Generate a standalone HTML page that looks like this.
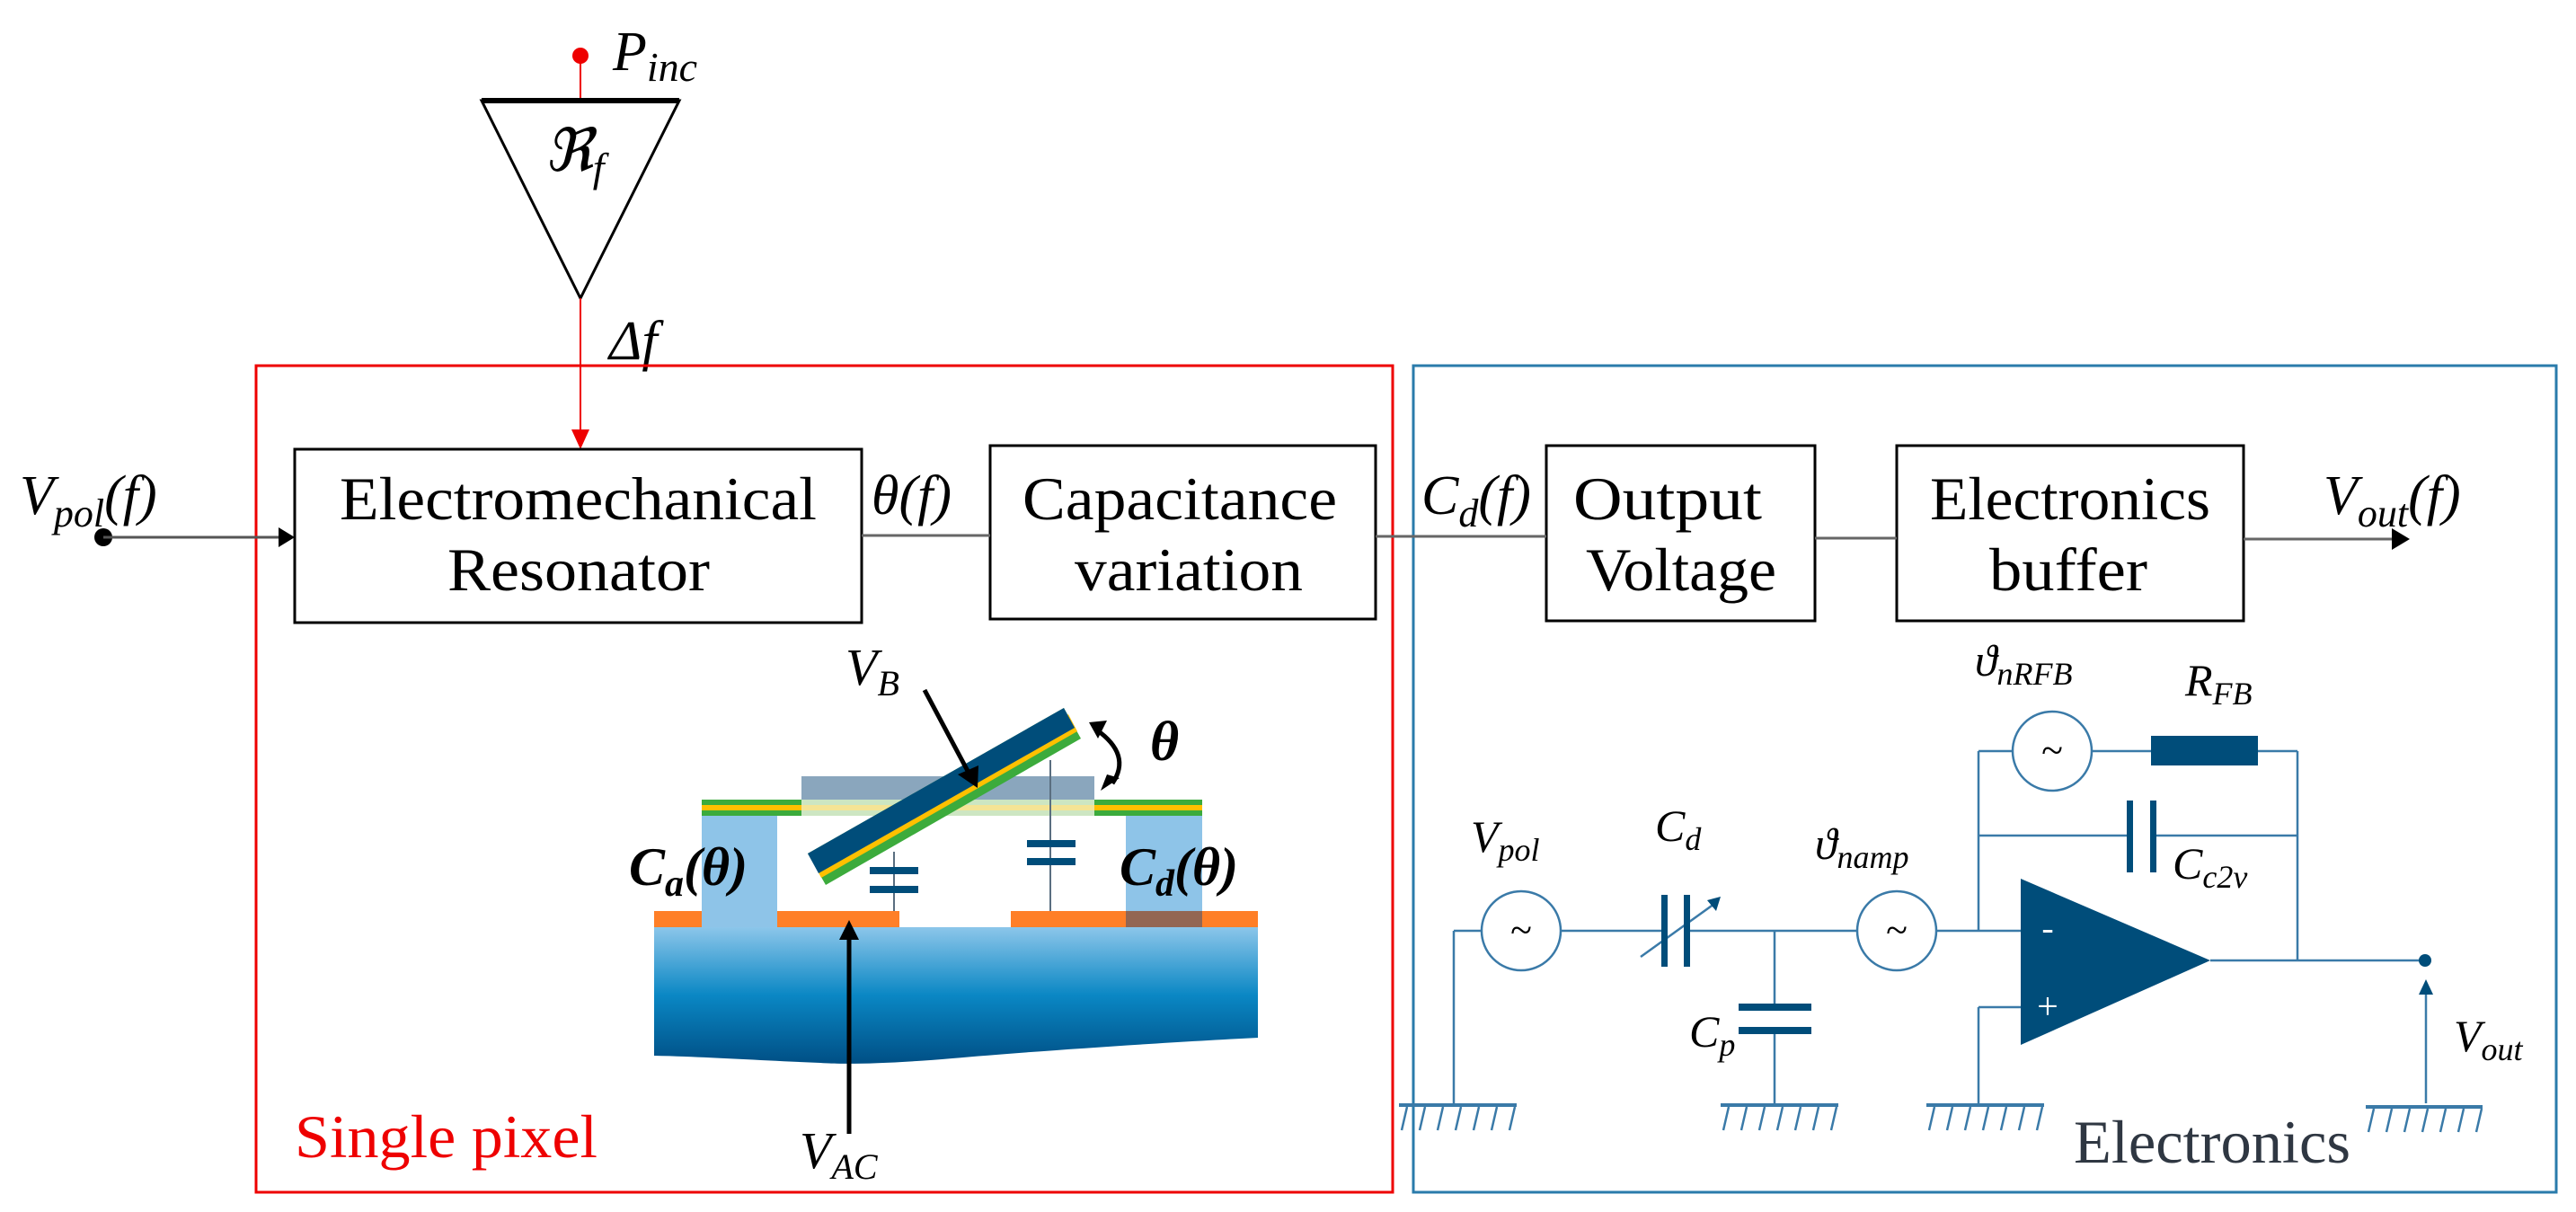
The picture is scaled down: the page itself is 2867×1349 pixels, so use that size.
<!DOCTYPE html>
<html><head><meta charset="utf-8"><style>
html,body{margin:0;padding:0;background:#fff;}
svg{display:block;}
text{font-family:"Liberation Serif",serif;}
</style></head><body>
<svg width="2867" height="1349" viewBox="0 0 2867 1349" xmlns="http://www.w3.org/2000/svg">
<defs>
<linearGradient id="sub" x1="0" y1="0" x2="0" y2="1">
<stop offset="0" stop-color="#8cc6ea"/><stop offset="0.5" stop-color="#0a87c4"/><stop offset="1" stop-color="#004f85"/>
</linearGradient>
</defs>
<!-- top triangle -->
<line x1="646" y1="62" x2="646" y2="112" stroke="#e00" stroke-width="2"/>
<circle cx="646" cy="62" r="9" fill="#e00"/>
<text x="682" y="78" font-size="62" font-style="italic">P<tspan font-size="46" dy="12">inc</tspan></text>
<polygon points="536,112 756,112 646,332" fill="#fff" stroke="#000" stroke-width="3"/>
<line x1="536" y1="112" x2="756" y2="112" stroke="#000" stroke-width="6"/>
<text x="606" y="190" font-size="66" font-style="italic">ℜ<tspan font-size="46" dy="12">f</tspan></text>
<line x1="646" y1="332" x2="646" y2="484" stroke="#e00" stroke-width="2"/>
<polygon points="636,478 656,478 646,500" fill="#e00"/>
<text x="678" y="400" font-size="62" font-style="italic">Δf</text>
<!-- frames -->
<rect x="285" y="407" width="1265" height="920" fill="none" stroke="#e00" stroke-width="3"/>
<rect x="1573" y="407" width="1272" height="920" fill="none" stroke="#2a7bab" stroke-width="3"/>
<!-- blocks -->
<g font-size="68" lengthAdjust="spacingAndGlyphs">
<rect x="328" y="500" width="631" height="193" fill="#fff" stroke="#000" stroke-width="3"/>
<text x="378" y="578" textLength="531" lengthAdjust="spacingAndGlyphs">Electromechanical</text>
<text x="498" y="657" textLength="292" lengthAdjust="spacingAndGlyphs">Resonator</text>
<rect x="1102" y="496" width="429" height="193" fill="#fff" stroke="#000" stroke-width="3"/>
<text x="1138" y="578" textLength="350" lengthAdjust="spacingAndGlyphs">Capacitance</text>
<text x="1196" y="657" textLength="254" lengthAdjust="spacingAndGlyphs">variation</text>
<rect x="1721" y="496" width="299" height="195" fill="#fff" stroke="#000" stroke-width="3"/>
<text x="1751" y="578" textLength="210" lengthAdjust="spacingAndGlyphs">Output</text>
<text x="1765" y="657" textLength="212" lengthAdjust="spacingAndGlyphs">Voltage</text>
<rect x="2111" y="496" width="386" height="195" fill="#fff" stroke="#000" stroke-width="3"/>
<text x="2148" y="578" textLength="312" lengthAdjust="spacingAndGlyphs">Electronics</text>
<text x="2214" y="657" textLength="176" lengthAdjust="spacingAndGlyphs">buffer</text>
</g>
<!-- connectors -->
<circle cx="115" cy="598" r="10" fill="#000"/>
<line x1="115" y1="598" x2="312" y2="598" stroke="#555" stroke-width="3"/>
<polygon points="310,587 328,598 310,609" fill="#000"/>
<text x="22" y="572" font-size="62" font-style="italic">V<tspan font-size="44" dy="14">pol</tspan><tspan dy="-14" font-size="62">(f)</tspan></text>
<line x1="959" y1="596" x2="1102" y2="596" stroke="#666" stroke-width="3"/>
<text x="970" y="572" font-size="62" font-style="italic">θ(f)</text>
<line x1="1531" y1="597" x2="1721" y2="597" stroke="#666" stroke-width="3"/>
<text x="1582" y="572" font-size="62" font-style="italic">C<tspan font-size="44" dy="14">d</tspan><tspan dy="-14" font-size="62">(f)</tspan></text>
<line x1="2020" y1="599" x2="2111" y2="599" stroke="#666" stroke-width="3"/>
<line x1="2497" y1="600" x2="2665" y2="600" stroke="#666" stroke-width="3"/>
<polygon points="2662,588 2682,600 2662,612" fill="#000"/>
<text x="2586" y="572" font-size="62" font-style="italic">V<tspan font-size="44" dy="14">out</tspan><tspan dy="-14" font-size="62">(f)</tspan></text>
<!-- MEMS device -->
<path d="M728,1032 L1400,1032 L1400,1155 C1300,1160 1150,1170 1060,1178 C990,1184 940,1185 913,1183 C840,1180 780,1176 728,1175 Z" fill="url(#sub)"/>
<rect x="728" y="1014" width="672" height="18" fill="#ff7f27"/>
<rect x="1001" y="1014" width="124" height="18" fill="#fff"/>
<rect x="781" y="907" width="84" height="125" fill="#8ec4e8"/>
<rect x="1253" y="907" width="85" height="107" fill="#8ec4e8"/>
<rect x="1253" y="1014" width="85" height="18" fill="#936653"/>
<rect x="892" y="864" width="326" height="26" fill="#8aa6bd"/>
<rect x="781" y="890" width="557" height="18" fill="#b8dca8" opacity="0.7"/>
<rect x="781" y="890" width="111" height="18" fill="#3cab3c"/>
<rect x="781" y="896" width="111" height="6" fill="#ffc000"/>
<rect x="1218" y="890" width="120" height="18" fill="#3cab3c"/>
<rect x="1218" y="896" width="120" height="6" fill="#ffc000"/>
<rect x="892" y="896" width="326" height="6" fill="#ffe48a" opacity="0.8"/>
<line x1="995" y1="948" x2="995" y2="1014" stroke="#5a6e80" stroke-width="2"/>
<rect x="968" y="965" width="54" height="8" fill="#004d7a"/>
<rect x="968" y="986" width="54" height="8" fill="#004d7a"/>
<line x1="1169" y1="846" x2="1169" y2="1014" stroke="#5a6e80" stroke-width="2"/>
<rect x="1143" y="935" width="54" height="8" fill="#004d7a"/>
<rect x="1143" y="955" width="54" height="8" fill="#004d7a"/>
<polygon points="899,950 1184,788 1203,822 919,985" fill="#3cab3c"/>
<polygon points="903,956 1189,795 1199,814 914,977" fill="#ffc000"/>
<polygon points="899,950 1184,788 1196,810 911,972" fill="#004d7a"/>
<line x1="1029" y1="768" x2="1078" y2="860" stroke="#000" stroke-width="5"/>
<polygon points="1066,862 1088,877 1089,852" fill="#000"/>
<path d="M1220,812 Q1260,840 1238,872" fill="none" stroke="#000" stroke-width="5"/>
<polygon points="1212,804 1232,802 1222,822" fill="#000"/>
<polygon points="1225,880 1246,866 1232,862" fill="#000"/>
<text x="1280" y="846" font-size="62" font-style="italic" font-weight="bold">θ</text>
<text x="941" y="762" font-size="58" font-style="italic">V<tspan font-size="40" dy="12">B</tspan></text>
<text x="700" y="985" font-size="60" font-style="italic" font-weight="bold">C<tspan font-size="42" dy="12">a</tspan><tspan dy="-12" font-size="60">(θ)</tspan></text>
<text x="1246" y="985" font-size="60" font-style="italic" font-weight="bold">C<tspan font-size="42" dy="12">d</tspan><tspan dy="-12" font-size="60">(θ)</tspan></text>
<line x1="945" y1="1262" x2="945" y2="1042" stroke="#000" stroke-width="5"/>
<polygon points="934,1046 945,1024 956,1046" fill="#000"/>
<text x="890" y="1300" font-size="58" font-style="italic">V<tspan font-size="40" dy="12">AC</tspan></text>
<text x="328" y="1288" font-size="68" fill="#e00" textLength="337" lengthAdjust="spacingAndGlyphs">Single pixel</text>
<!-- circuit -->
<g stroke="#3a7aa8" stroke-width="2.5" fill="none">
<line x1="1618" y1="1036" x2="1648" y2="1036"/>
<line x1="1618" y1="1036" x2="1618" y2="1230"/>
<line x1="1738" y1="1036" x2="1852" y2="1036"/>
<line x1="1877" y1="1036" x2="2068" y2="1036"/>
<line x1="1975" y1="1036" x2="1975" y2="1118"/>
<line x1="1975" y1="1150" x2="1975" y2="1230"/>
<line x1="2156" y1="1036" x2="2249" y2="1036"/>
<line x1="2202" y1="836" x2="2202" y2="1036"/>
<line x1="2202" y1="836" x2="2240" y2="836"/>
<line x1="2328" y1="836" x2="2394" y2="836"/>
<line x1="2513" y1="836" x2="2557" y2="836"/>
<line x1="2202" y1="930" x2="2370" y2="930"/>
<line x1="2396" y1="930" x2="2557" y2="930"/>
<line x1="2557" y1="836" x2="2557" y2="1069"/>
<line x1="2460" y1="1069" x2="2699" y2="1069"/>
<line x1="2249" y1="1121" x2="2202" y2="1121"/>
<line x1="2202" y1="1121" x2="2202" y2="1230"/>
<line x1="2700" y1="1228" x2="2700" y2="1105"/>
<circle cx="1693" cy="1036" r="44"/>
<circle cx="2111" cy="1036" r="44"/>
<circle cx="2284" cy="836" r="44"/>
</g>
<g stroke="#3a7aa8" stroke-width="4">
<line x1="1557" y1="1230" x2="1688" y2="1230"/>
<line x1="1915" y1="1230" x2="2046" y2="1230"/>
<line x1="2144" y1="1230" x2="2275" y2="1230"/>
<line x1="2633" y1="1232" x2="2763" y2="1232"/>
</g>
<g stroke="#3a7aa8" stroke-width="2.5">
<path d="M1566,1232 l-6,26 M1586,1232 l-6,26 M1606,1232 l-6,26 M1626,1232 l-6,26 M1646,1232 l-6,26 M1666,1232 l-6,26 M1686,1232 l-6,26"/>
<path d="M1924,1232 l-6,26 M1944,1232 l-6,26 M1964,1232 l-6,26 M1984,1232 l-6,26 M2004,1232 l-6,26 M2024,1232 l-6,26 M2044,1232 l-6,26"/>
<path d="M2153,1232 l-6,26 M2173,1232 l-6,26 M2193,1232 l-6,26 M2213,1232 l-6,26 M2233,1232 l-6,26 M2253,1232 l-6,26 M2273,1232 l-6,26"/>
<path d="M2642,1234 l-6,26 M2662,1234 l-6,26 M2682,1234 l-6,26 M2702,1234 l-6,26 M2722,1234 l-6,26 M2742,1234 l-6,26 M2762,1234 l-6,26"/>
<line x1="1826" y1="1065" x2="1908" y2="1006"/>
</g>
<g fill="#004d7a">
<rect x="1849" y="996" width="7" height="80"/>
<rect x="1874" y="996" width="7" height="80"/>
<polygon points="1915,998 1900,1002 1910,1014"/>
<rect x="1935" y="1117" width="81" height="8"/>
<rect x="1935" y="1143" width="81" height="8"/>
<rect x="2367" y="891" width="7" height="80"/>
<rect x="2393" y="891" width="7" height="80"/>
<rect x="2394" y="819" width="119" height="33"/>
<polygon points="2249,978 2249,1163 2460,1069"/>
<circle cx="2699" cy="1069" r="7"/>
<polygon points="2692,1107 2700,1090 2708,1107"/>
</g>
<text x="2279" y="1046" font-size="40" fill="#fff" font-family="Liberation Sans" text-anchor="middle">-</text>
<text x="2279" y="1134" font-size="42" fill="#fff" font-family="Liberation Sans" text-anchor="middle">+</text>
<g font-size="44" text-anchor="middle" fill="#000">
<text x="1693" y="1050">~</text><text x="2111" y="1050">~</text><text x="2284" y="850">~</text>
</g>
<g font-style="italic" fill="#000">
<text x="2198" y="752" font-size="50">ϑ<tspan font-size="36" dy="10">nRFB</tspan></text>
<text x="2432" y="774" font-size="50">R<tspan font-size="36" dy="10">FB</tspan></text>
<text x="1637" y="948" font-size="50">V<tspan font-size="36" dy="10">pol</tspan></text>
<text x="1842" y="936" font-size="50">C<tspan font-size="36" dy="10">d</tspan></text>
<text x="2020" y="956" font-size="50">ϑ<tspan font-size="36" dy="10">namp</tspan></text>
<text x="2418" y="978" font-size="50">C<tspan font-size="36" dy="10">c2v</tspan></text>
<text x="1880" y="1165" font-size="50">C<tspan font-size="36" dy="10">p</tspan></text>
<text x="2731" y="1170" font-size="50">V<tspan font-size="36" dy="10">out</tspan></text>
</g>
<text x="2308" y="1294" font-size="68" fill="#2f3742" textLength="308" lengthAdjust="spacingAndGlyphs">Electronics</text>
</svg>
</body></html>
